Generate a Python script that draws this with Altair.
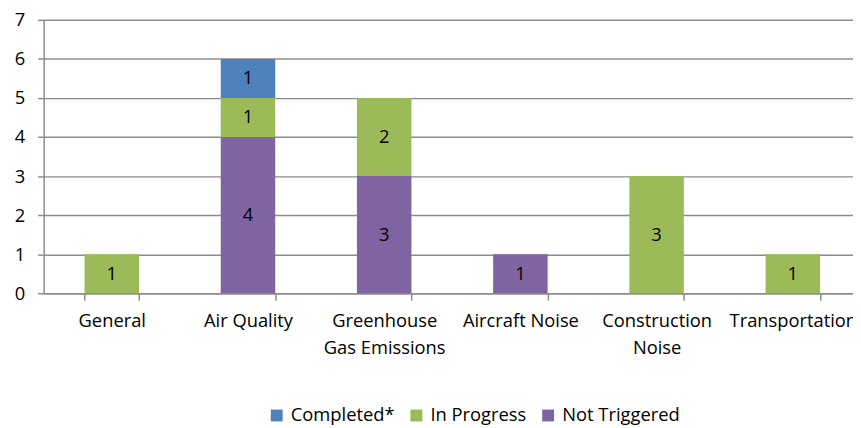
import altair as alt
import pandas as pd

categories = ["General", "Air Quality", "Greenhouse\nGas Emissions", "Aircraft Noise", "Construction\nNoise", "Transportation"]
statuses = ["Completed*", "In Progress", "Not Triggered"]
completed = [0, 1, 0, 0, 0, 0]
in_progress = [1, 1, 2, 0, 3, 1]
not_triggered = [0, 4, 3, 1, 0, 0]
colors = ["#4F81BD", "#9BBB59", "#8064A2"]

rows = []
for i, c in enumerate(categories):
    for s, vals, rank in [("Not Triggered", not_triggered, 0), ("In Progress", in_progress, 1), ("Completed*", completed, 2)]:
        if vals[i] > 0:
            rows.append({"category": c, "status": s, "value": vals[i], "rank": rank})
df = pd.DataFrame(rows)

FONT = "Open Sans"
FS = 18.5

base = alt.Chart(df).transform_stack(
    stack="value", as_=["y0", "y1"], groupby=["category"], sort=[{"field": "rank", "order": "ascending"}]
).transform_calculate(mid="(datum.y0 + datum.y1) / 2")

# the category axis runs past the right edge of the window, as in the reference
xscale = alt.Scale(range=[0, 825], paddingInner=0.6, paddingOuter=0.3)
xaxis = alt.Axis(labelAngle=0, labelExpr="split(datum.label, '\\n')",
                 tickBand="extent", tickSize=7, labelPadding=21,
                 labelLineHeight=27, labelFontSize=FS, labelFont=FONT,
                 labelColor="#000000", domainColor="#8c8c8c", tickColor="#8c8c8c",
                 grid=False, labelBaseline="middle", domainWidth=1.5, tickWidth=1.5)
yscale = alt.Scale(domain=[0, 7])
yaxis = alt.Axis(values=[0, 1, 2, 3, 4, 5, 6, 7], tickSize=6, labelPadding=13,
                 labelFontSize=FS, labelFont=FONT, labelColor="#000000",
                 domainColor="#8c8c8c", tickColor="#8c8c8c", gridColor="#8c8c8c",
                 gridWidth=1.5, domainWidth=1.5, tickWidth=1.5, grid=True)

bars = base.mark_bar().encode(
    x=alt.X("category:N", sort=categories, title=None, scale=xscale, axis=xaxis),
    y=alt.Y("y0:Q", title=None, scale=yscale, axis=yaxis),
    y2="y1:Q",
    color=alt.Color("status:N", scale=alt.Scale(domain=statuses, range=colors),
                    legend=alt.Legend(title=None, orient="none", direction="horizontal",
                                      legendX=226, legendY=390, symbolType="square",
                                      symbolSize=144, symbolStrokeWidth=0, labelFontSize=FS,
                                      labelFont=FONT, labelColor="#000000", columnPadding=12,
                                      symbolOffset=0, labelOffset=5)),
    order=alt.Order("rank:Q"),
)

labels = base.mark_text(fontSize=FS, font=FONT, color="#000000").encode(
    x=alt.X("category:N", sort=categories, title=None, scale=xscale, axis=xaxis),
    y=alt.Y("mid:Q", title=None, scale=yscale, axis=yaxis),
    text=alt.Text("value:Q"),
)

chart = alt.layer(bars, labels).properties(
    width=817, height=276, autosize=alt.AutoSizeParams(type="none"),
    padding={"left": 36, "top": 10, "right": 0, "bottom": 132}
).configure_view(stroke=None)

chart.save("out.html", embed_options={"renderer": "svg", "actions": False})
